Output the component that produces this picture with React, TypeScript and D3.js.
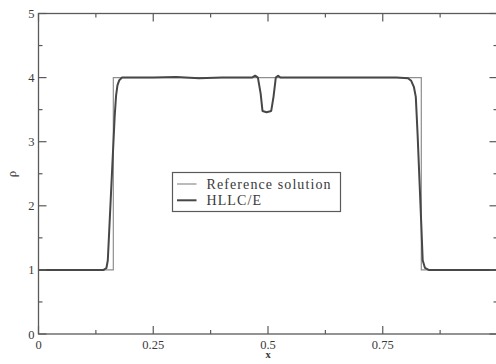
import React from "react";
import * as d3 from "d3";

// Exact (reference) solution: piecewise constant density profile
const refX = [0, 0.163, 0.163, 0.834, 0.834, 1];
const refRho = [1, 1, 4, 4, 1, 1];

// HLLC/E numerical solution
const hllcX = [
  0, 0.1, 0.142, 0.148, 0.151, 0.154, 0.158, 0.162, 0.166, 0.169, 0.172, 0.176, 0.182, 0.19,
  0.25, 0.3, 0.35, 0.4, 0.45, 0.465, 0.472, 0.478, 0.484, 0.488, 0.497, 0.507, 0.512, 0.517,
  0.522, 0.527, 0.535, 0.6, 0.7, 0.78, 0.805, 0.812, 0.818, 0.822, 0.826, 0.83, 0.834, 0.837,
  0.842, 0.85, 0.9, 1,
];
const hllcRho = [
  1, 1, 1.0, 1.03, 1.15, 1.6, 2.2, 2.8, 3.4, 3.72, 3.88, 3.96, 4.0, 4.0,
  4.0, 4.01, 3.99, 4.0, 4.0, 4.0, 4.03, 4.0, 3.75, 3.48, 3.46, 3.48, 3.7, 4.0,
  4.03, 4.0, 4.0, 4.0, 4.0, 4.0, 3.99, 3.95, 3.85, 3.7, 3.1, 2.4, 1.7, 1.15,
  1.03, 1.0, 1.0, 1,
];

const xMajor = [0, 0.25, 0.5, 0.75];
const xMajorLabels = ["0", "0.25", "0.5", "0.75"];
const xMinor = [0.125, 0.375, 0.625, 0.875];
const yMajor = [0, 1, 2, 3, 4, 5];
const yMinor = [0.5, 1.5, 2.5, 3.5, 4.5];

const seriesNames = ["Reference solution", "HLLC/E"];

export default function App() {
  const W = 496;
  const H = 364;
  const left = 38.5;
  const right = 497.5;
  const top = 13.5;
  const bottom = 334;

  const x = d3.scaleLinear().domain([0, 1]).range([left, right]);
  const y = d3.scaleLinear().domain([0, 5]).range([bottom, top]);

  const line = d3
    .line<[number, number]>()
    .x((d) => x(d[0]))
    .y((d) => y(d[1]));

  const refPts: [number, number][] = refX.map((v, i) => [v, refRho[i]]);
  const hllcPts: [number, number][] = hllcX.map((v, i) => [v, hllcRho[i]]);

  const axisColor = "#5a5a5a";
  const textColor = "#3a3a3a";
  const font = "'Liberation Serif', 'Times New Roman', serif";

  const majLen = 8;
  const minLen = 4;

  return (
    <svg
      width={W}
      height={H}
      style={{ position: "fixed", left: 0, top: 0, background: "#fff" }}
      fontFamily={font}
    >
      <rect x={0} y={0} width={W} height={H} fill="#fff" />

      {/* data */}
      <path d={line(refPts) || ""} fill="none" stroke="#8e8e8e" strokeWidth={1.2} />
      <path
        d={line(hllcPts) || ""}
        fill="none"
        stroke="#474747"
        strokeWidth={2}
        strokeLinejoin="round"
      />

      {/* frame */}
      <rect
        x={left}
        y={top}
        width={right - left}
        height={bottom - top}
        fill="none"
        stroke={axisColor}
        strokeWidth={1.3}
      />

      {/* x ticks, bottom and top */}
      {xMajor.map((v) => (
        <g key={"xm" + v}>
          <line x1={x(v)} x2={x(v)} y1={bottom} y2={bottom - majLen} stroke={axisColor} strokeWidth={1.2} />
          <line x1={x(v)} x2={x(v)} y1={top} y2={top + majLen} stroke={axisColor} strokeWidth={1.2} />
        </g>
      ))}
      {xMinor.map((v) => (
        <g key={"xn" + v}>
          <line x1={x(v)} x2={x(v)} y1={bottom} y2={bottom - minLen} stroke={axisColor} strokeWidth={1.2} />
          <line x1={x(v)} x2={x(v)} y1={top} y2={top + minLen} stroke={axisColor} strokeWidth={1.2} />
        </g>
      ))}
      {xMajor.map((v, i) => (
        <text
          key={"xl" + v}
          x={x(v)}
          y={348.5}
          textAnchor="middle"
          fontSize={12.5}
          fill={textColor}
        >
          {xMajorLabels[i]}
        </text>
      ))}
      <text x={x(0.5)} y={357.5} textAnchor="middle" fontSize={10.5} fontWeight="bold" fill={textColor}>
        x
      </text>

      {/* y ticks, left and right */}
      {yMajor.map((v) => (
        <g key={"ym" + v}>
          <line x1={left} x2={left + majLen} y1={y(v)} y2={y(v)} stroke={axisColor} strokeWidth={1.2} />
          <line x1={right} x2={right - majLen} y1={y(v)} y2={y(v)} stroke={axisColor} strokeWidth={1.2} />
        </g>
      ))}
      {yMinor.map((v) => (
        <g key={"yn" + v}>
          <line x1={left} x2={left + minLen} y1={y(v)} y2={y(v)} stroke={axisColor} strokeWidth={1.2} />
          <line x1={right} x2={right - minLen} y1={y(v)} y2={y(v)} stroke={axisColor} strokeWidth={1.2} />
        </g>
      ))}
      {yMajor.map((v) => (
        <text
          key={"yl" + v}
          x={left - 4}
          y={y(v) + 4.5}
          textAnchor="end"
          fontSize={12.5}
          fill={textColor}
        >
          {v}
        </text>
      ))}
      <text
        transform={`translate(16,174) rotate(-90)`}
        textAnchor="middle"
        fontSize={13}
        fill={textColor}
      >
        ρ
      </text>

      {/* legend */}
      <rect x={172.5} y={172.5} width={168} height={39} fill="#fff" stroke={axisColor} strokeWidth={1.2} />
      {seriesNames.map((name, i) => (
        <g key={name}>
          <line
            x1={177}
            x2={196.5}
            y1={184 + i * 16.3}
            y2={184 + i * 16.3}
            stroke={i === 0 ? "#8e8e8e" : "#474747"}
            strokeWidth={i === 0 ? 1.2 : 2}
          />
          <text
            x={206.5}
            y={188.7 + i * 16}
            fontSize={14}
            letterSpacing={1.1}
            fill={textColor}
          >
            {name}
          </text>
        </g>
      ))}
    </svg>
  );
}
